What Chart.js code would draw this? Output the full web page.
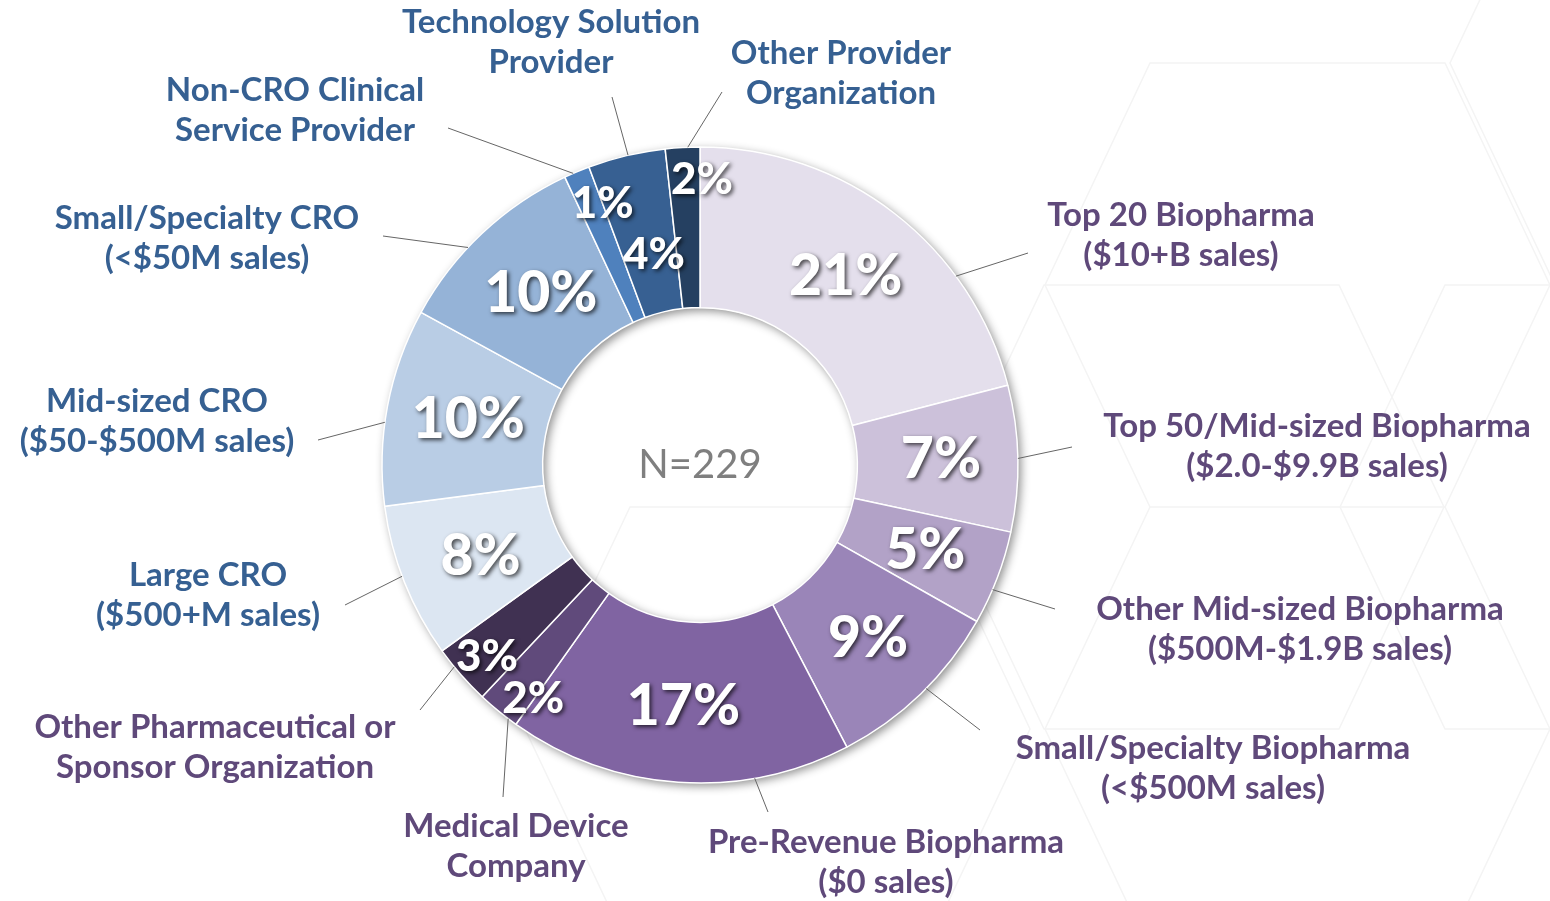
<!DOCTYPE html>
<html>
<head>
<meta charset="utf-8">
<title>Respondents by organization type</title>
<script src="https://cdn.jsdelivr.net/npm/chart.js@4.4.1/dist/chart.umd.min.js"></script>
<style>
  html, body { margin: 0; padding: 0; background: #ffffff; }
  #wrap { width: 1550px; height: 901px; position: relative; }
</style>
</head>
<body>
<div id="wrap"><canvas id="myChart" width="1550" height="901"></canvas></div>
<script>
  // data (N = 229 respondents)
  const categories = [
    ['Top 20 Biopharma', '($10+B sales)'],
    ['Top 50/Mid-sized Biopharma', '($2.0-$9.9B sales)'],
    ['Other Mid-sized Biopharma', '($500M-$1.9B sales)'],
    ['Small/Specialty Biopharma', '(<$500M sales)'],
    ['Pre-Revenue Biopharma', '($0 sales)'],
    ['Medical Device', 'Company'],
    ['Other Pharmaceutical or', 'Sponsor Organization'],
    ['Large CRO', '($500+M sales)'],
    ['Mid-sized CRO', '($50-$500M sales)'],
    ['Small/Specialty CRO', '(<$50M sales)'],
    ['Non-CRO Clinical', 'Service Provider'],
    ['Technology Solution', 'Provider'],
    ['Other Provider', 'Organization']
  ];
  const counts = [48, 17, 11, 21, 40, 5, 7, 18, 23, 23, 3, 9, 4];
  const totalN = 229;

  const sliceColors = [
    '#e4dfec', '#ccc1da', '#b2a2c7', '#9a85b8', '#8064a2', '#604a7b', '#403152',
    '#dce6f2', '#b9cde5', '#95b3d7', '#4f81bd', '#376092', '#254061'
  ];
  const purpleText = '#5f497a';
  const blueText = '#366092';
  const textColors = [
    purpleText, purpleText, purpleText, purpleText, purpleText, purpleText, purpleText,
    blueText, blueText, blueText, blueText, blueText, blueText
  ];

  // label layout
  const textPos = [[1181,235],[1317,446],[1300,629],[1213,768],[886,862],[516,846],[215,747],
                   [208,595],[157,421],[207,238],[295,110],[551,42],[841,73]];
  const leaderEnd = [[1028,253],[1072,447],[1055,609],[980,730],[768,812],[503,797],[420,710],
                     [345,605],[318,440],[383,236],[448,128],[612,97],[722,92]];
  const leaderT = [0.71,0.5,0.63,0.46,0.28,0.22,0.67,0.54,0.42,0.4,0.35,0.52,0.65];
  const pctT = [0.5,0.5,0.5,0.5,0.5,0.02,0.43,0.46,0.51,0.51,1.0,0.57,1.06];
  const pctR = [238,241,241,242,242,287,287,238,236,234,279,215,285];
  const pctSize = [57,57,57,57,57,44,44,57,57,57,44,44,44];

  const FONT = 'Lato, "Open Sans", sans-serif';

  function hexPath(ctx, x0, y0) {
    const a = 295, b = 105, h = 222;
    ctx.moveTo(x0, y0);
    ctx.lineTo(x0 + a, y0);
    ctx.lineTo(x0 + a + b, y0 + h);
    ctx.lineTo(x0 + a, y0 + 2 * h);
    ctx.lineTo(x0, y0 + 2 * h);
    ctx.lineTo(x0 - b, y0 + h);
    ctx.closePath();
  }

  const backdrop = {
    id: 'backdrop',
    beforeDraw(chart) {
      const ctx = chart.ctx;
      ctx.save();
      ctx.fillStyle = '#ffffff';
      ctx.fillRect(0, 0, chart.width, chart.height);
      ctx.strokeStyle = '#f4f4f4';
      ctx.lineWidth = 1.5;
      ctx.beginPath();
      hexPath(ctx, 1150, 63);
      hexPath(ctx, 1044, 285);
      hexPath(ctx, 1555, -159);
      hexPath(ctx, 1445, 285);
      hexPath(ctx, 630, 507);
      hexPath(ctx, 1150, 507);
      ctx.stroke();
      ctx.restore();
    }
  };

  const ringShadow = {
    id: 'ringShadow',
    beforeDatasetsDraw(chart) {
      const arc = chart.getDatasetMeta(0).data[0];
      const ctx = chart.ctx;
      ctx.save();
      ctx.shadowColor = 'rgba(0,0,0,0.45)';
      ctx.shadowBlur = 10;
      ctx.shadowOffsetX = 3;
      ctx.shadowOffsetY = 3;
      ctx.fillStyle = '#ffffff';
      ctx.beginPath();
      ctx.arc(arc.x, arc.y, arc.outerRadius, 0, Math.PI * 2);
      ctx.arc(arc.x, arc.y, arc.innerRadius, 0, Math.PI * 2, true);
      ctx.fill();
      ctx.restore();
    }
  };

  const sliceLabels = {
    id: 'sliceLabels',
    afterDatasetsDraw(chart) {
      const ctx = chart.ctx;
      const arcs = chart.getDatasetMeta(0).data;
      ctx.save();

      arcs.forEach((arc, i) => {
        // leader line
        const a = arc.startAngle + (arc.endAngle - arc.startAngle) * leaderT[i];
        const sx = arc.x + arc.outerRadius * Math.cos(a);
        const sy = arc.y + arc.outerRadius * Math.sin(a);
        ctx.strokeStyle = '#666666';
        ctx.lineWidth = 1;
        ctx.beginPath();
        ctx.moveTo(sx, sy);
        ctx.lineTo(leaderEnd[i][0], leaderEnd[i][1]);
        ctx.stroke();

        // category text
        ctx.fillStyle = textColors[i];
        ctx.font = 'bold 33px ' + FONT;
        ctx.textAlign = 'center';
        ctx.textBaseline = 'middle';
        const lines = categories[i];
        const lh = 40;
        const y0 = textPos[i][1] - (lines.length - 1) * lh / 2;
        lines.forEach((t, k) => ctx.fillText(t, textPos[i][0], y0 + k * lh));
      });

      // percentages inside the ring
      arcs.forEach((arc, i) => {
        const a = arc.startAngle + (arc.endAngle - arc.startAngle) * pctT[i];
        const px = arc.x + pctR[i] * Math.cos(a);
        const py = arc.y + pctR[i] * Math.sin(a);
        ctx.save();
        ctx.shadowColor = 'rgba(0,0,0,0.7)';
        ctx.shadowBlur = 4;
        ctx.shadowOffsetX = 2;
        ctx.shadowOffsetY = 2;
        ctx.fillStyle = '#ffffff';
        ctx.font = '900 ' + pctSize[i] + 'px ' + FONT;
        ctx.textAlign = 'center';
        ctx.textBaseline = 'middle';
        ctx.fillText(Math.round(counts[i] / totalN * 100) + '%', px, py);
        ctx.restore();
      });

      // centre
      const c = arcs[0];
      ctx.fillStyle = '#7f7f7f';
      ctx.font = '40px ' + FONT;
      ctx.textAlign = 'center';
      ctx.textBaseline = 'middle';
      ctx.fillText('N=' + totalN, c.x, c.y);
      ctx.restore();
    }
  };

  const data = {
    labels: categories.map(l => l.join(' ')),
    datasets: [{
      data: counts,
      backgroundColor: sliceColors,
      borderColor: '#ffffff',
      borderWidth: 1.5
    }]
  };

  const config = {
    type: 'doughnut',
    data: data,
    options: {
      responsive: false,
      animation: false,
      radius: 318,
      cutout: 157,
      layout: { padding: { left: 382, right: 532, top: 147, bottom: 118 } },
      plugins: {
        legend: { display: false },
        tooltip: { enabled: false }
      }
    },
    plugins: [backdrop, ringShadow, sliceLabels]
  };

  const myChart = new Chart(
    document.getElementById('myChart'),
    config
  );
</script>
</body>
</html>
